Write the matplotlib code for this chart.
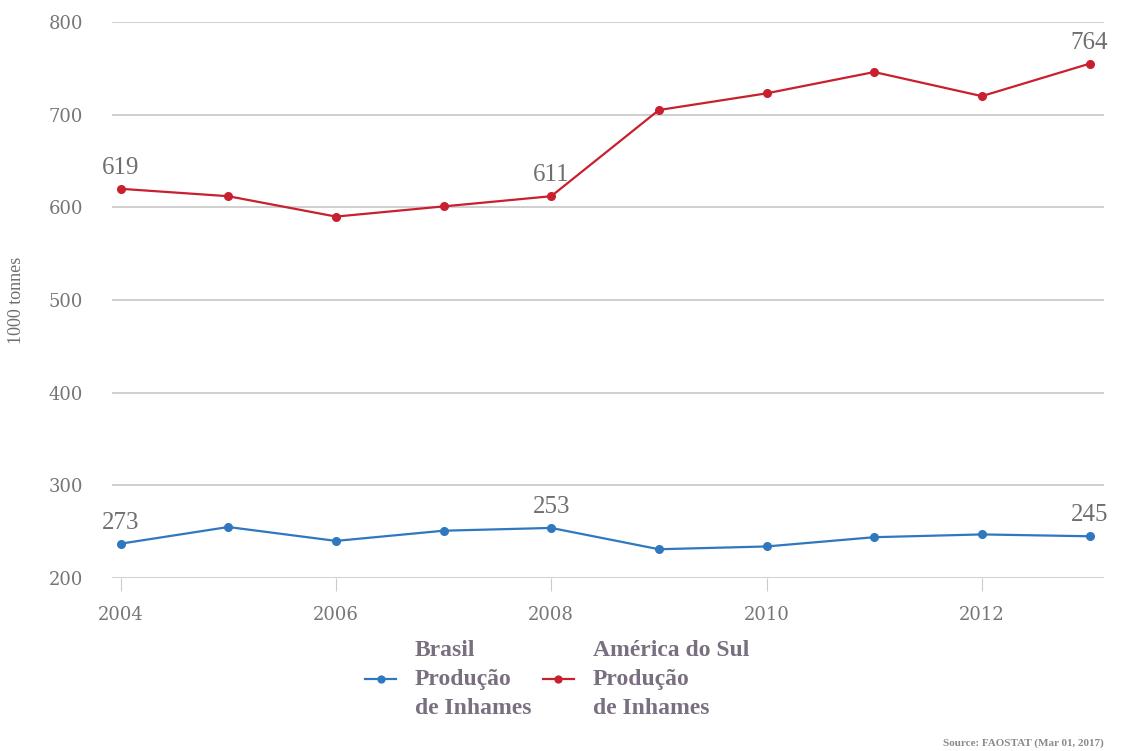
import matplotlib.pyplot as plt

years = [2004, 2005, 2006, 2007, 2008, 2009, 2010, 2011, 2012, 2013]
brasil = [237, 255, 240, 251, 254, 231, 234, 244, 247, 245]
america_sul = [620, 612, 590, 601, 612, 705, 723, 746, 720, 755]

# value labels as printed on the chart
brasil_labels = {2004: '273', 2008: '253', 2013: '245'}
america_labels = {2004: '619', 2008: '611', 2013: '764'}

plt.rcParams['font.family'] = ['Liberation Serif', 'DejaVu Serif']

fig = plt.figure(figsize=(11.21, 7.51), dpi=100)
ax = fig.add_axes([0.0999, 0.2304, 0.8845, 0.7403])

blue = '#2f78c0'
red = '#c8202f'
grey = '#6f6f6f'

l1, = ax.plot(years, brasil, color=blue, marker='o', markersize=5.5, linewidth=1.6)
l2, = ax.plot(years, america_sul, color=red, marker='o', markersize=5.5, linewidth=1.6)

for x, y in zip(years, brasil):
    if x in brasil_labels:
        ax.annotate(brasil_labels[x], (x, y), xytext=(0, 15), textcoords='offset points',
                    ha='center', va='center', fontsize=18, color=grey)
for x, y in zip(years, america_sul):
    if x in america_labels:
        ax.annotate(america_labels[x], (x, y), xytext=(0, 15), textcoords='offset points',
                    ha='center', va='center', fontsize=18, color=grey)

ax.set_xlim(2003.92, 2013.13)
ax.set_ylim(200, 800)
ax.set_yticks(range(200, 801, 100))
ax.set_xticks([2004, 2006, 2008, 2010, 2012])
ax.grid(axis='y', color='#cfcfcf', linewidth=1.4)
ax.set_axisbelow(True)
for s in ['top', 'right', 'left', 'bottom']:
    ax.spines[s].set_visible(False)
ax.tick_params(axis='y', length=0, labelsize=13, labelcolor='#767676', pad=21)
ax.tick_params(axis='x', length=9, color='#cccccc', labelsize=13, labelcolor='#767676', pad=11)
for lab in ax.get_xticklabels() + ax.get_yticklabels():
    lab.set_family('DejaVu Serif')
ax.set_ylabel('1000 tonnes', fontsize=13, color=grey)
ax.yaxis.set_label_coords(-0.088, 0.5)

leg = fig.legend([l1, l2], ['Brasil\nProdução\nde Inhames', 'América do Sul\nProdução\nde Inhames'],
                 loc='upper center', bbox_to_anchor=(0.497, 0.176), ncol=2, frameon=False,
                 prop={'size': 17, 'weight': 'bold'}, labelcolor='#7a6f80',
                 handlelength=1.3, handletextpad=0.8, columnspacing=0.5, markerscale=0.9)
for t in leg.get_texts():
    t.set_linespacing(1.5)

fig.text(0.985, 0.004, 'Source: FAOSTAT (Mar 01, 2017)', ha='right', va='bottom',
         fontsize=8, color='#8a8a8a', fontweight='bold')

fig.savefig('out.png', dpi=100)
